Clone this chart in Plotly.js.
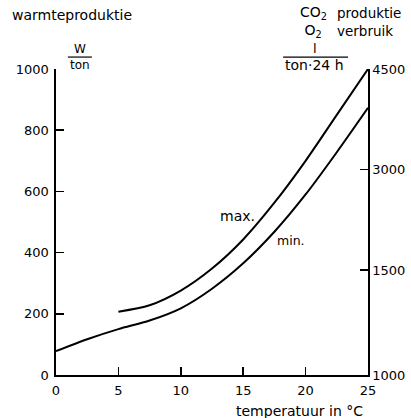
<!DOCTYPE html>
<html>
<head>
<meta charset="utf-8">
<script src="https://cdn.plot.ly/plotly-3.0.1.min.js"></script>
<style>html,body{margin:0;padding:0;background:#fff;}#chart{width:411px;height:418px;}</style>
</head>
<body>
<div id="chart"></div>
<script>
// temperature (°C) and heat production (W/ton)
var minTemp = [0, 2.5, 5, 7.5, 10, 12.5, 15, 17.5, 20, 22.5, 25];
var minHeat = [78, 117, 150, 178, 218, 282, 365, 468, 590, 728, 873];
var maxTemp = [5, 7.5, 10, 12.5, 15, 17.5, 20, 22.5, 25];
var maxHeat = [207, 228, 276, 348, 443, 563, 700, 850, 1000];
var xTicks = [0, 5, 10, 15, 20, 25];
var leftTicks = [0, 200, 400, 600, 800, 1000];
var rightTickVals = [0, 343, 672, 1000];
var rightTickText = ["1000", "1500", "3000", "4500"];

var FONT = "DejaVu Sans, sans-serif";
var lineStyle = {color: "#000", width: 2, shape: "spline", smoothing: 0.8};

var traces = [
  {x: minTemp, y: minHeat, mode: "lines", line: lineStyle, hoverinfo: "none", showlegend: false},
  {x: maxTemp, y: maxHeat, mode: "lines", line: lineStyle, hoverinfo: "none", showlegend: false},
  {x: [0], y: [0], yaxis: "y2", mode: "markers", marker: {opacity: 0}, hoverinfo: "none", showlegend: false}
];

var axisCommon = {
  showline: true, linecolor: "#000", linewidth: 1.6,
  ticks: "inside", ticklen: 8, tickwidth: 1.6, tickcolor: "#000",
  showgrid: false, zeroline: false, fixedrange: true,
  tickfont: {family: FONT, size: 13, color: "#000"}
};

function note(text, x, y, size, anchor) {
  return {text: text, xref: "paper", yref: "paper", x: x, y: y, xanchor: anchor || "center",
    yanchor: "middle", align: "left", showarrow: false, font: {family: FONT, size: size, color: "#000"}};
}

var layout = {
  width: 411, height: 418,
  margin: {l: 56, r: 43, t: 69, b: 43},
  paper_bgcolor: "#fff", plot_bgcolor: "#fff",
  font: {family: FONT, size: 12, color: "#000"},
  xaxis: Object.assign({}, axisCommon, {range: [0, 25], tickvals: xTicks, ticklabelstandoff: 3}),
  yaxis: Object.assign({}, axisCommon, {range: [0, 1000], tickvals: leftTicks, ticklabelstandoff: 3}),
  yaxis2: Object.assign({}, axisCommon, {range: [0, 1000], overlaying: "y", side: "right",
    tickvals: rightTickVals, ticktext: rightTickText}),
  annotations: [
    note("warmteproduktie", -0.147, 1.178, 14, "left"),
    note("W", 0.077, 1.064, 12),
    note("ton", 0.077, 1.013, 12),
    note("CO<sub>2</sub><br> O<sub>2</sub>", 0.776, 1.152, 14, "left"),
    note("produktie<br>verbruik", 0.894, 1.152, 13.5, "left"),
    note("l", 0.83, 1.066, 13),
    note("ton·24 h", 0.83, 1.013, 14),
    note("max.", 0.583, 0.52, 14),
    note("min.", 0.753, 0.438, 12.5),
    note("temperatuur in °C", 0.78, -0.118, 14)
  ],
  shapes: [
    {type: "line", xref: "paper", yref: "paper", x0: 0.038, x1: 0.115, y0: 1.039, y1: 1.039, line: {color: "#000", width: 1.2}},
    {type: "line", xref: "paper", yref: "paper", x0: 0.728, x1: 0.936, y0: 1.039, y1: 1.039, line: {color: "#000", width: 1.2}}
  ]
};

Plotly.newPlot("chart", traces, layout, {displayModeBar: false, staticPlot: true});
</script>
</body>
</html>
